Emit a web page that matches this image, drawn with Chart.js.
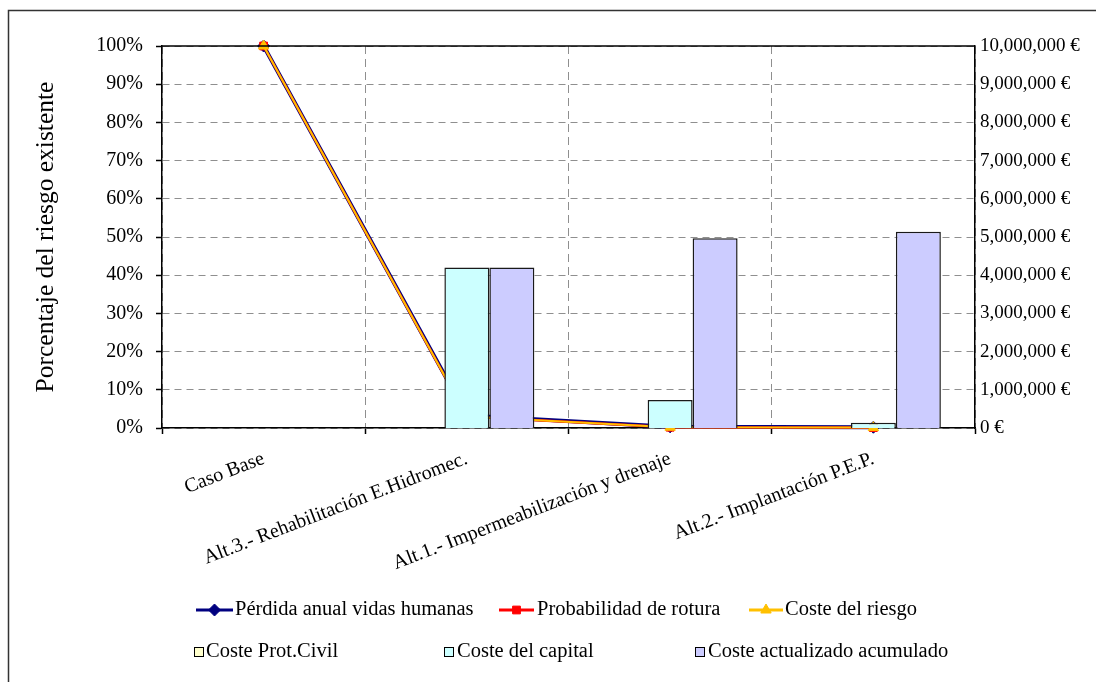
<!DOCTYPE html>
<html>
<head>
<meta charset="utf-8">
<script src="https://cdn.jsdelivr.net/npm/chart.js@4.4.1/dist/chart.umd.min.js"></script>
<style>
  html, body { margin: 0; padding: 0; background: #ffffff; }
  #wrap { position: relative; width: 1096px; height: 682px; }
  canvas { display: block; }
</style>
</head>
<body>
<div id="wrap"><canvas id="c" width="1096" height="682"></canvas></div>
<script>
// ---- data ----
const categories = [
  'Caso Base',
  'Alt.3.- Rehabilitación E.Hidromec.',
  'Alt.1.- Impermeabilización y drenaje',
  'Alt.2.- Implantación P.E.P.'
];
const perdidaVidas = [100, 3.3, 0.3, 0.2];        // %
const probRotura = [100, 3.0, 0.2, 0.1];          // %
const costeRiesgo = [100, 3.0, 0.2, 0.1];         // %
const costeProtCivil = [0, 0, 0, 0];              // €
const costeCapital = [0, 4200000, 730000, 140000];        // €
const costeActualizado = [0, 4200000, 4970000, 5140000];  // €
const leftTicks = [0, 10, 20, 30, 40, 50, 60, 70, 80, 90, 100];
const rightTicks = [0, 1000000, 2000000, 3000000, 4000000, 5000000, 6000000, 7000000, 8000000, 9000000, 10000000];

const FONT = "'Liberation Serif', 'Times New Roman', serif";
const GRID = '#8f8f8f';

const frameAndLegend = {
  id: 'frameAndLegend',
  afterDraw(chart) {
    const ctx = chart.ctx;
    const a = chart.chartArea;
    ctx.save();
    ctx.setLineDash([]);
    // outer frame (left and top edges visible)
    ctx.strokeStyle = '#333333';
    ctx.lineWidth = 1.5;
    ctx.beginPath();
    ctx.moveTo(8.5, 700);
    ctx.lineTo(8.5, 10.5);
    ctx.lineTo(1110, 10.5);
    ctx.stroke();
    // top edge of plot area
    ctx.strokeStyle = '#000000';
    ctx.lineWidth = 1.5;
    ctx.beginPath();
    ctx.moveTo(a.left, a.top);
    ctx.lineTo(a.right, a.top);
    ctx.stroke();

    // legend
    const ds = chart.data.datasets;
    ctx.font = '20.5px ' + FONT;
    ctx.textBaseline = 'middle';
    ctx.textAlign = 'left';
    const lineItems = [
      { d: ds[0], x0: 196, x1: 233, tx: 235, y: 610 },
      { d: ds[1], x0: 499, x1: 534, tx: 537, y: 610 },
      { d: ds[2], x0: 749, x1: 783, tx: 785, y: 610 }
    ];
    lineItems.forEach(it => {
      ctx.strokeStyle = it.d.borderColor;
      ctx.fillStyle = it.d.borderColor;
      ctx.lineWidth = 3;
      ctx.beginPath();
      ctx.moveTo(it.x0, it.y);
      ctx.lineTo(it.x1, it.y);
      ctx.stroke();
      ctx.lineWidth = 1;
      Chart.helpers.drawPoint(ctx, {
        pointStyle: it.d.pointStyle,
        radius: it.d.pointRadius,
        borderWidth: 1
      }, (it.x0 + it.x1) / 2, it.y);
      ctx.fillStyle = '#000000';
      ctx.fillText(it.d.label, it.tx, it.y);
    });
    const boxItems = [
      { d: ds[3], bx: 194, tx: 206, y: 652 },
      { d: ds[4], bx: 444, tx: 457, y: 652 },
      { d: ds[5], bx: 695, tx: 708, y: 652 }
    ];
    boxItems.forEach(it => {
      ctx.fillStyle = it.d.backgroundColor;
      ctx.fillRect(it.bx + 0.5, it.y - 4.5, 9, 9);
      ctx.strokeStyle = '#000000';
      ctx.lineWidth = 1;
      ctx.strokeRect(it.bx + 0.5, it.y - 4.5, 9, 9);
      ctx.fillStyle = '#000000';
      ctx.fillText(it.d.label, it.tx, it.y);
    });
    ctx.restore();
  }
};

function lineDs(label, data, color, width, style, radius, order) {
  return {
    type: 'line', label, data, yAxisID: 'y', order, clip: false,
    borderColor: color, backgroundColor: color, borderWidth: width,
    pointStyle: style, pointRadius: radius, pointBackgroundColor: color,
    pointBorderColor: color, pointBorderWidth: 1, tension: 0, fill: false
  };
}
function barDs(label, data, color) {
  return {
    type: 'bar', label, data, yAxisID: 'y2', order: 0,
    backgroundColor: color, borderColor: '#1a1a1a', borderWidth: 1.5,
    categoryPercentage: 0.664, barPercentage: 1.0
  };
}

new Chart(document.getElementById('c'), {
  data: {
    labels: categories,
    datasets: [
      lineDs('Pérdida anual vidas humanas', perdidaVidas, '#000080', 4, 'rectRot', 6, 3),
      lineDs('Probabilidad de rotura', probRotura, '#FF0000', 2.5, 'rect', 5.5, 2),
      lineDs('Coste del riesgo', costeRiesgo, '#FFC000', 2, 'triangle', 6, 1),
      barDs('Coste Prot.Civil', costeProtCivil, '#FFFFCC'),
      barDs('Coste del capital', costeCapital, '#CCFFFF'),
      barDs('Coste actualizado acumulado', costeActualizado, '#CCCCFF')
    ]
  },
  options: {
    responsive: false,
    devicePixelRatio: 1,
    animation: false,
    layout: { padding: { top: 46, left: 0, right: 0, bottom: 0 } },
    plugins: { legend: { display: false }, tooltip: { enabled: false } },
    scales: {
      x: {
        type: 'category',
        offset: true,
        grid: {
          offset: true, display: true, drawOnChartArea: true,
          color: GRID, lineWidth: 1,
          tickColor: '#000000', tickBorderDash: [], tickLength: 6, tickWidth: 1.5
        },
        border: { display: true, color: '#000000', width: 1.5, dash: [8, 5] },
        ticks: {
          autoSkip: false, minRotation: 21, maxRotation: 21,
          padding: 13, color: '#000000', font: { family: FONT, size: 20 }
        },
        afterFit(scale) { scale.height = 254; }
      },
      y: {
        type: 'linear', position: 'left', min: 0, max: 100,
        afterBuildTicks(scale) { scale.ticks = leftTicks.map(v => ({ value: v })); },
        grid: {
          color: GRID, lineWidth: 1,
          tickColor: '#000000', tickBorderDash: [], tickLength: 6, tickWidth: 1.5
        },
        border: { display: true, color: '#000000', width: 1.5, dash: [7, 5] },
        ticks: {
          padding: 13, color: '#000000', font: { family: FONT, size: 20 },
          callback: v => v + '%'
        },
        title: {
          display: true, text: 'Porcentaje del riesgo existente', color: '#000000',
          font: { family: FONT, size: 25.5 }, padding: { top: 31, bottom: 0 }
        },
        afterFit(scale) { scale.width = 162; }
      },
      y2: {
        type: 'linear', position: 'right', min: 0, max: 10000000,
        afterBuildTicks(scale) { scale.ticks = rightTicks.map(v => ({ value: v })); },
        grid: { display: false, drawTicks: false },
        border: { display: true, color: '#000000', width: 1.5 },
        ticks: {
          padding: 5, color: '#000000', font: { family: FONT, size: 19 },
          callback: v => v.toLocaleString('en-US') + ' €'
        },
        afterFit(scale) { scale.width = 121; }
      }
    }
  },
  plugins: [frameAndLegend]
});
</script>
</body>
</html>
